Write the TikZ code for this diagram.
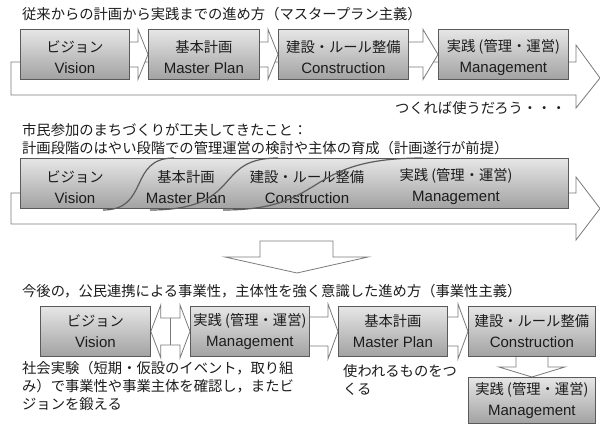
\documentclass[tikz,border=0pt]{standalone}
\usepackage{fontspec}
\setmainfont{Noto Sans CJK JP}
\newfontfamily\lat{Liberation Sans}
\usetikzlibrary{calc}
\pgfdeclarelayer{back}
\pgfdeclarelayer{mid}
\pgfsetlayers{back,mid,main}
\definecolor{boxtop}{HTML}{E6E6E6}
\definecolor{boxbot}{HTML}{A2A2A2}
\definecolor{edge}{HTML}{5A5A5A}
\definecolor{outl}{HTML}{7A7A7A}
\definecolor{curvec}{HTML}{5C5C5C}
\definecolor{txtc}{HTML}{1C1C1C}
\newcommand\chev[5]{%
  \draw[hollow] ($(#1.east)+(0,#4)$) -- ($(#2.west)+(-#3,#4)$) -- ($(#2.west)+(-#3,#5)$) -- (#2.west)
    -- ($(#2.west)+(-#3,-#5)$) -- ($(#2.west)+(-#3,-#4)$) -- ($(#1.east)+(0,-#4)$);}
\newcommand\en[1]{{\lat\fontsize{15}{21}\selectfont #1}}
\begin{document}
\begin{tikzpicture}[x=1pt,y=-1pt,
  box/.style={draw=edge, line width=0.8pt, top color=boxtop, bottom color=boxbot, anchor=north west, inner sep=0pt},
  btxt/.style={align=center, inner sep=0pt, font=\fontsize{14.3}{21}\selectfont, text=txtc},
  hollow/.style={draw=outl, fill=white, line width=0.8pt, line join=miter},
  txt/.style={anchor=west, inner sep=0pt, font=\fontsize{14.3}{18}\selectfont, align=left, text=txtc},
  scurve/.style={draw=curvec, line width=1.2pt}]
\useasboundingbox (0,0) rectangle (600,426);

% ---------- section 1 ----------
\node[txt] (t1) at (22,14) {従来からの計画から実践までの進め方（マスタープラン主義）};
\node[box, minimum width=109pt, minimum height=50pt] (v1) at (20,29) {};
\node[box, minimum width=111pt, minimum height=50pt] (p1) at (148,29) {};
\node[box, minimum width=130pt, minimum height=50pt] (c1) at (278,29) {};
\node[box, minimum width=130pt, minimum height=50pt] (g1) at (438,29) {};
\begin{pgfonlayer}{back}
\draw[hollow] (11,62) -- (11,95) -- (576,95) -- (576,108) -- (600,78) -- (576,45) -- (576,62) -- cycle;
\end{pgfonlayer}
\begin{pgfonlayer}{mid}
\chev{v1}{p1}{10}{12.5}{25}
\chev{p1}{c1}{10}{12.5}{25}
\chev{c1}{g1}{15}{12.5}{25}
\end{pgfonlayer}
\node[btxt] (v1t) at ($(v1.center)+(0,3)$) {ビジョン\\\en{Vision}};
\node[btxt] (p1t) at ($(p1.center)+(0,3)$) {基本計画\\\en{Master Plan}};
\node[btxt] (c1t) at ($(c1.center)+(0,3)$) {建設・ルール整備\\\en{Construction}};
\node[btxt] (g1t) at ($(g1.center)+(0,3)$) {実践 (管理・運営)\\\en{Management}};
\node[txt, anchor=east] (t1b) at (566,108) {つくれば使うだろう・・・};

% ---------- section 2 ----------
\node[txt] (t2) at (22,139.5) {市民参加のまちづくりが工夫してきたこと：\\計画段階のはやい段階での管理運営の検討や主体の育成（計画遂行が前提）};
\begin{pgfonlayer}{back}
\draw[hollow] (11,193) -- (11,224) -- (576,224) -- (576,240) -- (600,208.5) -- (576,177) -- (576,193) -- cycle;
\end{pgfonlayer}
\node[box, minimum width=548pt, minimum height=50pt] (b2) at (20,158) {};
\node[btxt] (v2t) at (75,187) {ビジョン\\\en{Vision}};
\node[btxt] (p2t) at (186,187) {基本計画\\\en{Master Plan}};
\node[btxt] (c2t) at (307,187) {建設・ルール整備\\\en{Construction}};
\node[btxt] (g2t) at (456,187) {実践 (管理・運営)\\\en{Management}};
\draw[scurve] (103,210) .. controls (150,210) and (128,158) .. (174,158);
\draw[scurve] (150,210) .. controls (245,210) and (212,158) .. (278,158);
\draw[scurve] (223,210) .. controls (330,210) and (300,158) .. (423,158);

% ---------- transition arrow ----------
\draw[hollow] (260,241) -- (333,241) -- (333,257) -- (368,257) -- (297,273) -- (225,257) -- (260,257) -- cycle;

% ---------- section 3 ----------
\node[txt] (t3) at (22,291) {今後の，公民連携による事業性，主体性を強く意識した進め方（事業性主義）};
\node[box, minimum width=110pt, minimum height=50pt] (v3) at (40,306) {};
\node[box, minimum width=119pt, minimum height=50pt] (g3) at (190,306) {};
\node[box, minimum width=109pt, minimum height=50pt] (p3) at (338,306) {};
\node[box, minimum width=127pt, minimum height=50pt] (c3) at (468,306) {};
\node[box, minimum width=127pt, minimum height=46pt] (g3b) at (468,377) {};
\begin{pgfonlayer}{mid}
\draw[hollow] (v3.east) -- ($(v3.east)+(10,-26.5)$) -- ($(v3.east)+(10,-13.5)$) -- ($(g3.west)+(-10,-13.5)$)
  -- ($(g3.west)+(-10,-26.5)$) -- (g3.west) -- ($(g3.west)+(-10,26.5)$) -- ($(g3.west)+(-10,13.5)$)
  -- ($(v3.east)+(10,13.5)$) -- ($(v3.east)+(10,26.5)$) -- cycle;
\draw[draw=outl, line width=0.8pt] ($(v3.east)!0.5!(g3.west)+(0,-13.5)$) -- ($(v3.east)!0.5!(g3.west)+(0,13.5)$);
\chev{g3}{p3}{10}{14.5}{27.5}
\chev{p3}{c3}{10}{14.5}{27.5}
\draw[hollow] ($(c3.south)+(-16,0)$) -- ($(g3b.north)+(-16,-10)$) -- ($(g3b.north)+(-33,-10)$) -- (g3b.north)
  -- ($(g3b.north)+(33,-10)$) -- ($(g3b.north)+(16,-10)$) -- ($(c3.south)+(16,0)$);
\end{pgfonlayer}
\node[btxt] (v3t) at (v3.center) {ビジョン\\\en{Vision}};
\node[btxt] (g3t) at (g3.center) {実践 (管理・運営)\\\en{Management}};
\node[btxt] (p3t) at (p3.center) {基本計画\\\en{Master Plan}};
\node[btxt] (c3t) at (c3.center) {建設・ルール整備\\\en{Construction}};
\node[btxt] (g3bt) at (g3b.center) {実践 (管理・運営)\\\en{Management}};
\node[txt, anchor=north west] (n1) at (22,361) {社会実験（短期・仮設のイベント，取り組\\み）で事業性や事業主体を確認し，またビ\\ジョンを鍛える};
\node[txt, anchor=north west] (n2) at (343,364) {使われるものをつ\\くる};
\end{tikzpicture}
\end{document}
